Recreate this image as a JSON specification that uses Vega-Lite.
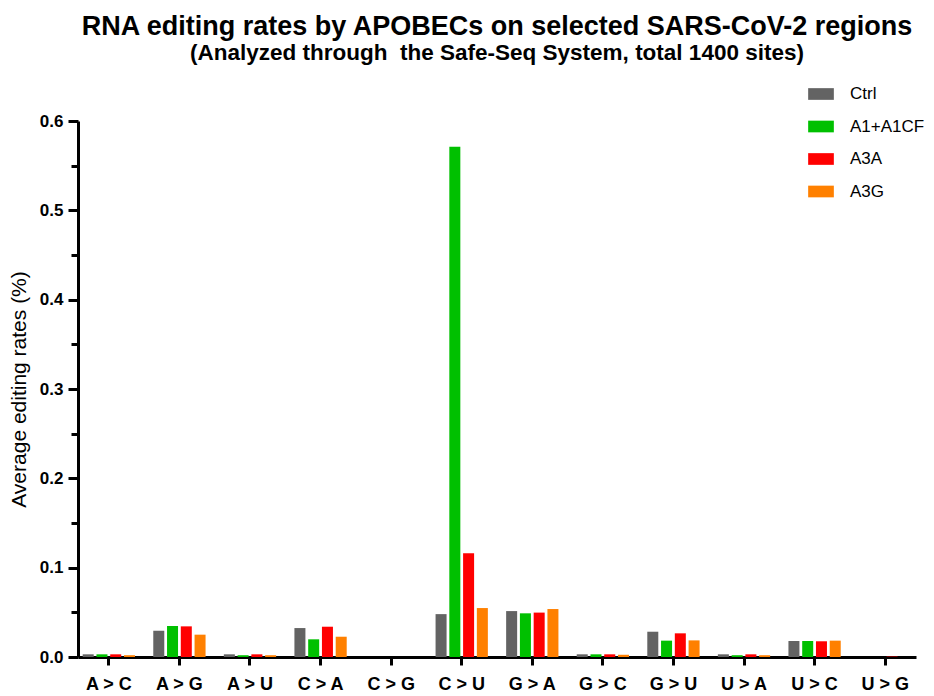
{
  "$schema": "https://vega.github.io/schema/vega-lite/v6.json",
  "width": 838,
  "height": 536,
  "autosize": {"type": "none"},
  "padding": {"left": 78, "top": 121, "right": 18, "bottom": 39},
  "background": "white",
  "title": {
    "text": "RNA editing rates by APOBECs on selected SARS-CoV-2 regions",
    "subtitle": "(Analyzed through\u00a0 the Safe-Seq System, total 1400 sites)",
    "anchor": "middle",
    "frame": "group",
    "font": "Liberation Sans",
    "fontSize": 27,
    "fontWeight": "bold",
    "color": "black",
    "subtitleFont": "Liberation Sans",
    "subtitleFontSize": 22.5,
    "subtitleFontWeight": "bold",
    "subtitleColor": "black",
    "subtitlePadding": 1.5,
    "offset": 15.5
  },
  "data": {
    "values": [
      {"mut": "A > C", "group": "Ctrl", "rate": 0.003},
      {"mut": "A > C", "group": "A1+A1CF", "rate": 0.003},
      {"mut": "A > C", "group": "A3A", "rate": 0.003},
      {"mut": "A > C", "group": "A3G", "rate": 0.002},
      {"mut": "A > G", "group": "Ctrl", "rate": 0.0294},
      {"mut": "A > G", "group": "A1+A1CF", "rate": 0.0347},
      {"mut": "A > G", "group": "A3A", "rate": 0.0343},
      {"mut": "A > G", "group": "A3G", "rate": 0.025},
      {"mut": "A > U", "group": "Ctrl", "rate": 0.003},
      {"mut": "A > U", "group": "A1+A1CF", "rate": 0.002},
      {"mut": "A > U", "group": "A3A", "rate": 0.003},
      {"mut": "A > U", "group": "A3G", "rate": 0.002},
      {"mut": "C > A", "group": "Ctrl", "rate": 0.0324},
      {"mut": "C > A", "group": "A1+A1CF", "rate": 0.0198},
      {"mut": "C > A", "group": "A3A", "rate": 0.0339},
      {"mut": "C > A", "group": "A3G", "rate": 0.0227},
      {"mut": "C > G", "group": "Ctrl", "rate": 0},
      {"mut": "C > G", "group": "A1+A1CF", "rate": 0},
      {"mut": "C > G", "group": "A3A", "rate": 0},
      {"mut": "C > G", "group": "A3G", "rate": 0},
      {"mut": "C > U", "group": "Ctrl", "rate": 0.048},
      {"mut": "C > U", "group": "A1+A1CF", "rate": 0.5713},
      {"mut": "C > U", "group": "A3A", "rate": 0.116},
      {"mut": "C > U", "group": "A3G", "rate": 0.0548},
      {"mut": "G > A", "group": "Ctrl", "rate": 0.0514},
      {"mut": "G > A", "group": "A1+A1CF", "rate": 0.0489},
      {"mut": "G > A", "group": "A3A", "rate": 0.0497},
      {"mut": "G > A", "group": "A3G", "rate": 0.0537},
      {"mut": "G > C", "group": "Ctrl", "rate": 0.003},
      {"mut": "G > C", "group": "A1+A1CF", "rate": 0.003},
      {"mut": "G > C", "group": "A3A", "rate": 0.003},
      {"mut": "G > C", "group": "A3G", "rate": 0.0025},
      {"mut": "G > U", "group": "Ctrl", "rate": 0.0283},
      {"mut": "G > U", "group": "A1+A1CF", "rate": 0.0183},
      {"mut": "G > U", "group": "A3A", "rate": 0.0265},
      {"mut": "G > U", "group": "A3G", "rate": 0.0186},
      {"mut": "U > A", "group": "Ctrl", "rate": 0.003},
      {"mut": "U > A", "group": "A1+A1CF", "rate": 0.002},
      {"mut": "U > A", "group": "A3A", "rate": 0.003},
      {"mut": "U > A", "group": "A3G", "rate": 0.002},
      {"mut": "U > C", "group": "Ctrl", "rate": 0.0179},
      {"mut": "U > C", "group": "A1+A1CF", "rate": 0.0179},
      {"mut": "U > C", "group": "A3A", "rate": 0.0176},
      {"mut": "U > C", "group": "A3G", "rate": 0.0183},
      {"mut": "U > G", "group": "Ctrl", "rate": 0},
      {"mut": "U > G", "group": "A1+A1CF", "rate": 0},
      {"mut": "U > G", "group": "A3A", "rate": 0.0005},
      {"mut": "U > G", "group": "A3G", "rate": 0}
    ]
  },
  "layer": [
    {
      "mark": {"type": "bar"},
      "encoding": {
        "x": {
          "field": "mut",
          "type": "nominal",
          "sort": ["A > C", "A > G", "A > U", "C > A", "C > G", "C > U", "G > A", "G > C", "G > U", "U > A", "U > C", "U > G"],
          "scale": {"paddingInner": 0.22, "paddingOuter": 0.047},
          "axis": {
            "title": null,
            "labelAngle": 0,
            "labelFont": "Liberation Sans",
            "labelFontSize": 18,
            "labelFontWeight": "bold",
            "labelColor": "black",
            "labelPadding": 10,
            "tickSize": 8,
            "tickWidth": 3,
            "tickColor": "black",
            "domainWidth": 3,
            "domainColor": "black",
            "grid": false
          }
        },
        "xOffset": {
          "field": "group",
          "type": "nominal",
          "sort": ["Ctrl", "A1+A1CF", "A3A", "A3G"],
          "scale": {"paddingInner": 0.2, "paddingOuter": 0.1}
        },
        "y": {
          "field": "rate",
          "type": "quantitative",
          "scale": {"domain": [0, 0.6], "nice": false},
          "axis": {
            "title": "Average editing rates (%)",
            "titleFont": "Liberation Sans",
            "titleFontSize": 21,
            "titleFontWeight": "normal",
            "titleColor": "black",
            "titlePadding": 10,
            "values": [0, 0.1, 0.2, 0.3, 0.4, 0.5, 0.6],
            "format": ".1f",
            "labelFont": "Liberation Sans",
            "labelFontSize": 17,
            "labelFontWeight": "bold",
            "labelColor": "black",
            "labelPadding": 5,
            "tickSize": 10,
            "tickWidth": 3,
            "tickColor": "black",
            "domainWidth": 3,
            "domainColor": "black",
            "grid": false,
            "orient": "left"
          }
        },
        "color": {
          "field": "group",
          "type": "nominal",
          "sort": ["Ctrl", "A1+A1CF", "A3A", "A3G"],
          "scale": {
            "domain": ["Ctrl", "A1+A1CF", "A3A", "A3G"],
            "range": ["#636363", "#00C000", "#FF0000", "#FF8000"]
          },
          "legend": {
            "orient": "none",
            "legendX": 730,
            "legendY": -40,
            "title": null,
            "symbolType": "M-1,-0.455H1V0.455H-1Z",
            "symbolSize": 660,
            "symbolStrokeWidth": 0,
            "symbolOpacity": 1,
            "labelFont": "Liberation Sans",
            "labelFontSize": 17,
            "labelColor": "black",
            "labelOffset": 16,
            "rowPadding": 11.5
          }
        }
      }
    },
    {
      "mark": {"type": "rule", "opacity": 0},
      "encoding": {
        "y": {
          "field": "rate",
          "type": "quantitative",
          "scale": {"domain": [0, 0.6], "nice": false},
          "axis": {
            "orient": "left",
            "title": null,
            "values": [0.05, 0.15, 0.25, 0.35, 0.45, 0.55],
            "labels": false,
            "domain": false,
            "grid": false,
            "tickSize": 7,
            "tickWidth": 3,
            "tickColor": "black"
          }
        }
      }
    }
  ],
  "resolve": {"axis": {"y": "independent"}},
  "config": {
    "view": {"stroke": null},
    "font": "Liberation Sans"
  }
}
